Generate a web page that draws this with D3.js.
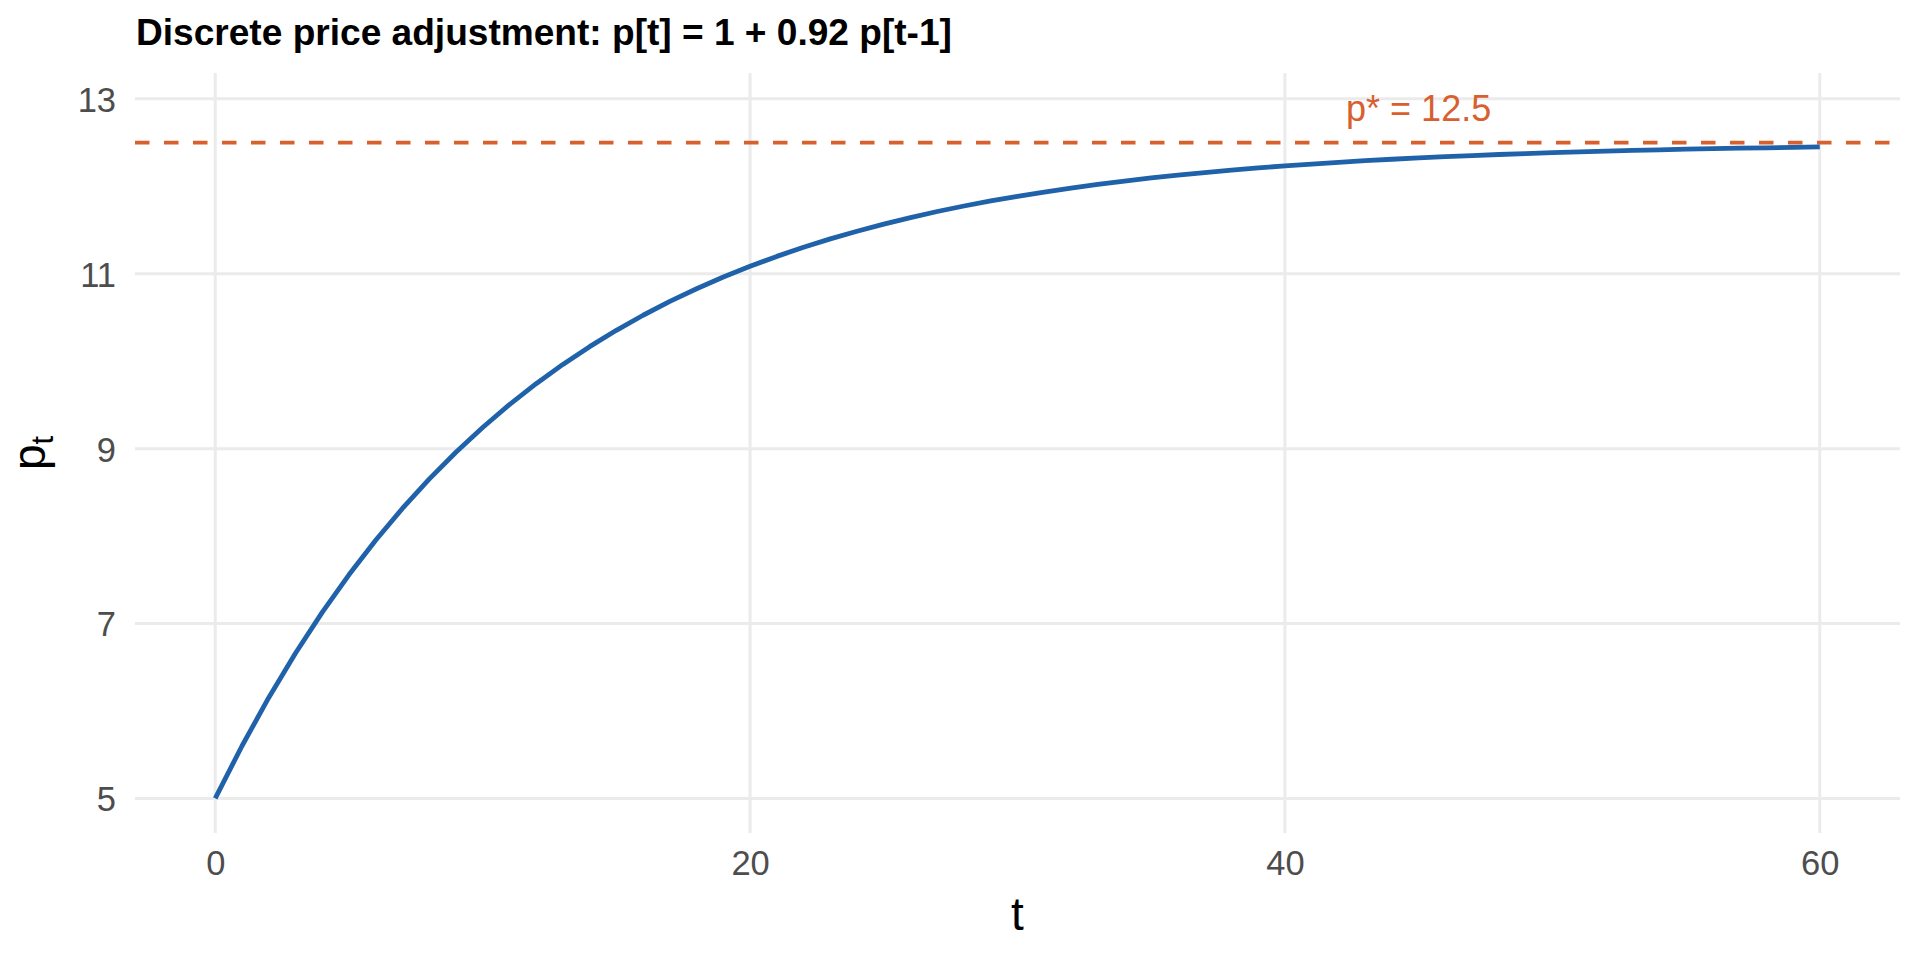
<!DOCTYPE html>
<html>
<head>
<meta charset="utf-8">
<script src="https://cdn.jsdelivr.net/npm/d3@7"></script>
<style>
  html, body { margin: 0; padding: 0; background: #fff; }
  svg { display: block; font-family: "Liberation Sans", Arial, Helvetica, sans-serif; }
</style>
</head>
<body>
<svg id="chart" width="1920" height="960"></svg>
<script>
// price path p[t], t = 0..60
var p_values = [
    5.000, 5.600, 6.152, 6.660, 7.127, 7.557, 7.952, 8.316, 8.651, 8.959,
    9.242, 9.503, 9.742, 9.963, 10.166, 10.353, 10.525, 10.683, 10.828, 10.962,
    11.085, 11.198, 11.302, 11.398, 11.486, 11.567, 11.642, 11.711, 11.774, 11.832,
    11.885, 11.934, 11.980, 12.021, 12.060, 12.095, 12.127, 12.157, 12.184, 12.210,
    12.233, 12.254, 12.274, 12.292, 12.309, 12.324, 12.338, 12.351, 12.363, 12.374,
    12.384, 12.393, 12.402, 12.410, 12.417, 12.424, 12.430, 12.435, 12.440, 12.445,
    12.450
];
var steady_state = 12.5;
var x_ticks = [0, 20, 40, 60];
var y_ticks = [5, 7, 9, 11, 13];
var title_text = "Discrete price adjustment: p[t] = 1 + 0.92 p[t-1]";
var label_text = "p* = 12.5";

var blue = "#1f62a9",
    orange = "#d8602f",
    grid = "#ebebeb";

var panel = {left: 135, right: 1900, top: 73, bottom: 833};

var data = p_values.map((v, i) => ({t: i, p: v}));

var x = d3.scaleLinear().domain([-3, 63]).range([panel.left, panel.right]);
var y = d3.scaleLinear().domain([4.605, 13.295]).range([panel.bottom, panel.top]);

var svg = d3.select("#chart");

/* grid lines */
var g_grid = svg.append("g");
g_grid.selectAll(".hgrid").data(y_ticks).enter().append("line")
    .attr("x1", panel.left).attr("x2", panel.right)
    .attr("y1", d => y(d)).attr("y2", d => y(d))
    .attr("stroke", grid).attr("stroke-width", 3);
g_grid.selectAll(".vgrid").data(x_ticks).enter().append("line")
    .attr("x1", d => x(d)).attr("x2", d => x(d))
    .attr("y1", panel.top).attr("y2", panel.bottom)
    .attr("stroke", grid).attr("stroke-width", 3);

/* axes (labels only, ggplot minimal style) */
var xAxis = d3.axisBottom(x).tickValues(x_ticks).tickSize(0).tickPadding(18).tickFormat(d3.format("d"));
var yAxis = d3.axisLeft(y).tickValues(y_ticks).tickSize(0).tickPadding(19).tickFormat(d3.format("d"));

svg.append("g")
    .attr("transform", `translate(0,${panel.bottom})`)
    .call(xAxis)
    .call(g => g.select(".domain").remove())
    .selectAll("text")
    .attr("dy", "0.71em")
    .style("font-family", "'Liberation Sans', Arial, sans-serif")
    .style("font-size", "34.5px")
    .attr("fill", "#4d4d4d");

svg.append("g")
    .attr("transform", `translate(${panel.left},0)`)
    .call(yAxis)
    .call(g => g.select(".domain").remove())
    .selectAll("text")
    .attr("dy", "0.36em")
    .style("font-family", "'Liberation Sans', Arial, sans-serif")
    .style("font-size", "34.5px")
    .attr("fill", "#4d4d4d");

/* steady state */
svg.append("line")
    .attr("x1", panel.left).attr("x2", panel.right)
    .attr("y1", y(steady_state)).attr("y2", y(steady_state))
    .attr("stroke", orange)
    .attr("stroke-width", 3.7)
    .attr("stroke-dasharray", "14.5,14.5");

svg.append("text")
    .attr("x", x(45))
    .attr("y", y(12.9))
    .attr("dy", "0.36em")
    .attr("text-anchor", "middle")
    .attr("fill", orange)
    .style("font-size", "36px")
    .text(label_text);

/* price path */
var line = d3.line().x(d => x(d.t)).y(d => y(d.p));
svg.append("path")
    .datum(data)
    .attr("d", line)
    .attr("fill", "none")
    .attr("stroke", blue)
    .attr("stroke-width", 4.8)
    .attr("stroke-linejoin", "round");

/* titles */
svg.append("text")
    .attr("x", 136)
    .attr("y", 45)
    .attr("font-weight", "bold")
    .attr("fill", "#000")
    .style("font-size", "37.1px")
    .text(title_text);

svg.append("text")
    .attr("x", (panel.left + panel.right) / 2)
    .attr("y", 930)
    .attr("text-anchor", "middle")
    .attr("fill", "#000")
    .style("font-size", "46px")
    .text("t");

var ylab = svg.append("text")
    .attr("transform", `translate(45,${(panel.top + panel.bottom) / 2}) rotate(-90)`)
    .attr("text-anchor", "middle")
    .attr("fill", "#000")
    .style("font-size", "46px");
ylab.append("tspan").text("p");
ylab.append("tspan").attr("dy", 8).style("font-size", "31px").text("t");
</script>
</body>
</html>
